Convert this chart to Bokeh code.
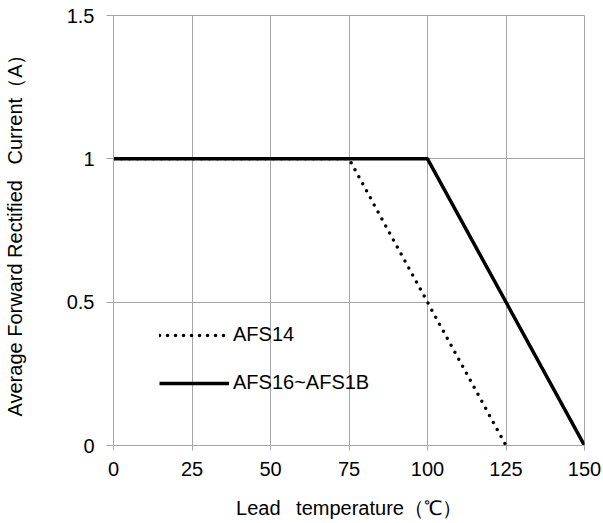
from bokeh.plotting import figure
from bokeh.models import Range1d, FixedTicker, Legend, LegendItem
from bokeh.embed import file_html
from bokeh.resources import INLINE

# Data
temp_afs14 = [0, 75, 125]
curr_afs14 = [1, 1, 0]
temp_afs16 = [0, 100, 150]
curr_afs16 = [1, 1, 0]

x_ticks = [0, 25, 50, 75, 100, 125, 150]
y_ticks = [0, 0.5, 1, 1.5]
y_tick_labels = {0: "0", 0.5: "0.5", 1: "1", 1.5: "1.5"}

series_names = ["AFS14", "AFS16~AFS1B"]
x_label = "Lead\u2002 temperature（℃）"
y_label = "Average Forward Rectified\u2002 Current（A）"

FONT = "Liberation Sans"
GRID = "#a6a6a6"

p = figure(
    width=603, height=523,
    min_border_left=112, min_border_top=15, min_border_right=19, min_border_bottom=78,
    x_range=Range1d(0, 150), y_range=Range1d(0, 1.5),
    output_backend="svg", toolbar_location=None,
)
p.background_fill_color = "white"
p.border_fill_color = "white"
p.outline_line_color = GRID
p.outline_line_width = 1

for ax in (p.xaxis, p.yaxis):
    ax.axis_line_color = GRID
    ax.major_tick_line_color = GRID
    ax.minor_tick_line_color = None
    ax.major_tick_in = 0
    ax.major_label_text_font = FONT
    ax.major_label_text_font_size = "20px"
    ax.major_label_text_color = "black"
    ax.axis_label_text_font = FONT
    ax.axis_label_text_font_size = "20px"
    ax.axis_label_text_font_style = "normal"
    ax.axis_label_text_color = "black"

p.xaxis.ticker = FixedTicker(ticks=x_ticks)
p.yaxis.ticker = FixedTicker(ticks=y_ticks)
p.yaxis.major_label_overrides = y_tick_labels
p.xaxis.major_tick_out = 5
p.xaxis.major_label_standoff = 11
p.yaxis.major_tick_out = 7
p.yaxis.major_label_standoff = 12
p.xaxis.axis_label = x_label
p.yaxis.axis_label = y_label
p.xaxis.axis_label_standoff = 18
p.yaxis.axis_label_standoff = 38

p.xgrid.ticker = FixedTicker(ticks=x_ticks)
p.ygrid.ticker = FixedTicker(ticks=y_ticks)
p.grid.grid_line_color = GRID
p.grid.grid_line_width = 1

r1 = p.line(temp_afs14, curr_afs14, line_color="black", line_width=3.5,
            line_dash="0 8", line_cap="round")
r2 = p.line(temp_afs16, curr_afs16, line_color="black", line_width=3.5)

legend = Legend(
    items=[LegendItem(label=series_names[0], renderers=[r1]),
           LegendItem(label=series_names[1], renderers=[r2])],
    location=(46, 51),
    glyph_width=70, glyph_height=20, label_height=20,
    spacing=25, padding=0, margin=0, label_standoff=4,
    label_text_font=FONT, label_text_font_size="20px", label_text_color="black",
    border_line_color=None, background_fill_alpha=0,
)
p.add_layout(legend)

open("out.html", "w").write(file_html(p, INLINE))
